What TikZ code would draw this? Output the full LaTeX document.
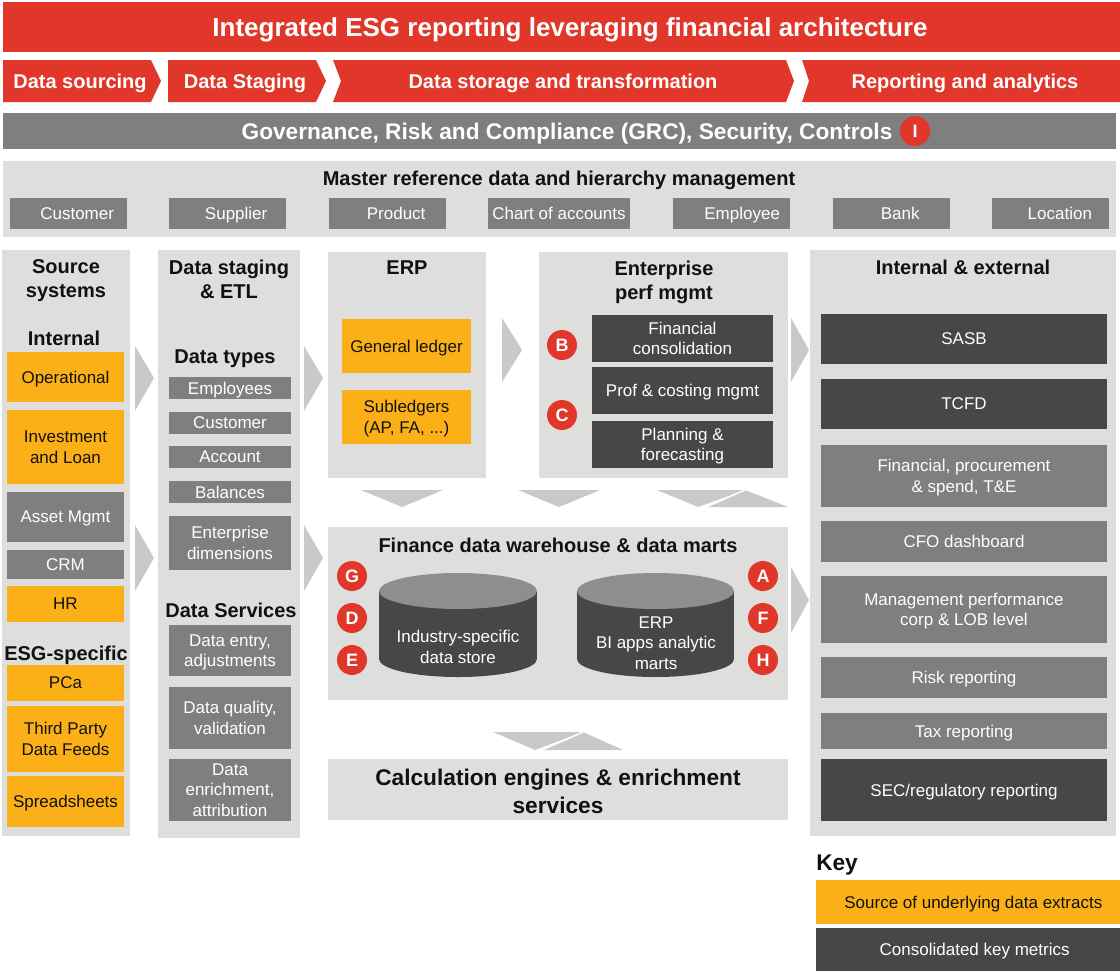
\documentclass[tikz,border=0pt]{standalone}
\usepackage{fontspec}
\setmainfont{Liberation Sans}
\definecolor{esgred}{HTML}{E1362A}
\definecolor{esgorange}{HTML}{FBB017}
\definecolor{esggray}{HTML}{7F7F7F}
\definecolor{esgdark}{HTML}{474747}
\definecolor{esgbg}{HTML}{DEDEDC}
\definecolor{esgarrow}{HTML}{C9C9C9}
\definecolor{esgcyl}{HTML}{8E8E8E}
\definecolor{esgtext}{HTML}{111111}
\newcommand\mybox[7]{\node[#2, minimum width={(#5-#3)*0.75pt}, minimum height={(#6-#4)*0.75pt}] (#1) at ({(#3+#5)/2},{(#4+#6)/2}) {#7};}
\begin{document}
\begin{tikzpicture}[x=0.75pt,y=-0.75pt,
  every node/.style={text depth=0pt},
  base/.style={inner sep=0pt, outer sep=0pt, align=center, font=\fontsize{12.75}{15.4}\selectfont},
  obox/.style={base, fill=esgorange, text=esgtext},
  gbox/.style={base, fill=esggray, text=white},
  dbox/.style={base, fill=esgdark, text=white},
  panel/.style={inner sep=0pt, outer sep=0pt, fill=esgbg},
  rbar/.style={inner sep=0pt, outer sep=0pt, fill=esgred},
  head/.style={inner sep=0pt, align=center, text=esgtext, font=\bfseries\fontsize{15}{18}\selectfont},
  badge/.style={circle, fill=esgred, text=white, inner sep=0pt, minimum size=22.5pt, font=\bfseries\fontsize{13.5}{13.5}\selectfont},
  tri/.style={fill=esgarrow},
  chev/.style={fill=esgred},
  chevtext/.style={inner sep=0pt, text=white, font=\bfseries\fontsize{15}{18}\selectfont},
  cyltext/.style={inner sep=0pt, align=center, text=white, font=\fontsize{12.75}{15.4}\selectfont},
]
\useasboundingbox (0,0) rectangle (1120,971);

% ---------- title ----------
\mybox{titlebar}{rbar}{3}{2}{1120}{52}{}
\node[inner sep=0pt, text=white, font=\bfseries\fontsize{19.5}{22}\selectfont] (title) at (570,27) {Integrated ESG reporting leveraging financial architecture};

% ---------- chevrons ----------
\fill[chev] (3,60) -- (151,60) -- (161,81) -- (151,102) -- (3,102) -- cycle;
\node[chevtext] (c1) at (80,81) {Data sourcing};
\fill[chev] (168,60) -- (316,60) -- (326,81) -- (316,102) -- (168,102) -- cycle;
\node[chevtext] (c2) at (245,81) {Data Staging};
\fill[chev] (333,60) -- (786,60) -- (794,81) -- (786,102) -- (333,102) -- (341,81) -- cycle;
\node[chevtext] (c3) at (563,81) {Data storage and transformation};
\fill[chev] (802,60) -- (1120,60) -- (1120,102) -- (802,102) -- (809,81) -- cycle;
\node[chevtext] (c4) at (965,81) {Reporting and analytics};

% ---------- GRC ----------
\mybox{grcbar}{panel, fill=esggray}{3}{113}{1116}{149}{}
\node[inner sep=0pt, text=white, font=\bfseries\fontsize{17}{20}\selectfont] (grc) at (567,131) {Governance, Risk and Compliance (GRC), Security, Controls};
\node[badge] (bI) at (915,131) {I};

% ---------- master reference ----------
\mybox{mref}{panel}{3}{161}{1116}{237}{}
\node[head] (mreft) at (559,178) {Master reference data and hierarchy management};
\mybox{m1}{gbox}{10}{198}{127}{229}{\hspace*{13pt}Customer}
\mybox{m2}{gbox}{169}{198}{286}{229}{\hspace*{13pt}Supplier}
\mybox{m3}{gbox}{329}{198}{446}{229}{\hspace*{13pt}Product}
\mybox{m4}{gbox}{488}{198}{630}{229}{Chart of accounts}
\mybox{m5}{gbox}{673}{198}{790}{229}{\hspace*{16pt}Employee}
\mybox{m6}{gbox}{833}{198}{950}{229}{\hspace*{13pt}Bank}
\mybox{m7}{gbox}{992}{198}{1109}{229}{\hspace*{14pt}Location}

% ---------- source systems ----------
\mybox{src}{panel}{2}{250}{130}{836}{}
\node[head] (srct) at (66,279) {Source\\systems};
\node[head] (srcint) at (64,338) {Internal};
\mybox{op}{obox}{7}{352}{124}{402}{Operational}
\mybox{inv}{obox}{7}{410}{124}{484}{Investment\\and Loan}
\mybox{am}{gbox}{7}{492}{124}{542}{Asset Mgmt}
\mybox{crm}{gbox}{7}{550}{124}{579}{CRM}
\mybox{hr}{obox}{7}{586}{124}{622}{HR}
\node[head] (esgs) at (66,653) {ESG-specific};
\mybox{pca}{obox}{7}{665}{124}{701}{PCa}
\mybox{tp}{obox}{7}{706}{124}{772}{Third Party\\Data Feeds}
\mybox{ss}{obox}{7}{776}{124}{827}{Spreadsheets}

% ---------- data staging ----------
\mybox{stg}{panel}{158}{250}{300}{838}{}
\node[head] (stgt) at (229,279) {Data staging\\\& ETL};
\node[head] (dtypes) at (225,357) {Data types};
\mybox{emp}{gbox}{169}{377}{291}{399}{Employees}
\mybox{cus}{gbox}{169}{412}{291}{434}{Customer}
\mybox{acc}{gbox}{169}{446}{291}{468}{Account}
\mybox{bal}{gbox}{169}{481}{291}{503}{Balances}
\mybox{ent}{gbox}{169}{516}{291}{570}{Enterprise\\dimensions}
\node[head] (dserv) at (231,610) {Data Services};
\mybox{den}{gbox}{169}{625}{291}{676}{Data entry,\\adjustments}
\mybox{dq}{gbox}{169}{687}{291}{749}{Data quality,\\validation}
\mybox{der}{gbox}{169}{759}{291}{821}{Data\\enrichment,\\attribution}

% ---------- ERP ----------
\mybox{erp}{panel}{328}{252}{486}{478}{}
\node[head] (erpt) at (407,268) {ERP};
\mybox{gl}{obox}{342}{319}{471}{373}{General ledger}
\mybox{sub}{obox}{342}{390}{471}{444}{Subledgers\\(AP, FA, ...)}

% ---------- EPM ----------
\mybox{epm}{panel}{539}{252}{788}{478}{}
\node[head] (epmt) at (664,280) {Enterprise\\perf mgmt};
\mybox{fc}{dbox}{592}{315}{773}{362}{Financial\\consolidation}
\mybox{pc}{dbox}{592}{367}{773}{414}{Prof \& costing mgmt}
\mybox{pf}{dbox}{592}{421}{773}{468}{Planning \&\\forecasting}
\node[badge] (bB) at (562,345) {B};
\node[badge] (bC) at (562,415) {C};

% ---------- FDW ----------
\mybox{fdw}{panel}{328}{527}{788}{700}{}
\node[head] (fdwt) at (558,545) {Finance data warehouse \& data marts};
\node[badge] (bG) at (352,576) {G};
\node[badge] (bD) at (352,618) {D};
\node[badge] (bE) at (352,660) {E};
\node[badge] (bA) at (763,576) {A};
\node[badge] (bF) at (763,618) {F};
\node[badge] (bH) at (763,660) {H};
% cylinder 1
\fill[esgdark] (379,591) rectangle (537,659);
\fill[esgdark] (458,659) ellipse [x radius=59.25pt, y radius=13.5pt];
\fill[esgcyl] (458,591) ellipse [x radius=59.25pt, y radius=13.5pt];
\node[cyltext] (cyl1) at (458,647) {Industry-specific\\data store};
% cylinder 2
\fill[esgdark] (577,591) rectangle (734,659);
\fill[esgdark] (655.5,659) ellipse [x radius=58.9pt, y radius=13.5pt];
\fill[esgcyl] (655.5,591) ellipse [x radius=58.9pt, y radius=13.5pt];
\node[cyltext] (cyl2) at (656,643) {ERP\\BI apps analytic\\marts};

% ---------- calc ----------
\mybox{calc}{panel}{328}{759}{788}{820}{}
\node[inner sep=0pt, align=center, text=esgtext, font=\bfseries\fontsize{17}{21}\selectfont] (calct) at (558,791) {Calculation engines \& enrichment\\services};

% ---------- reporting ----------
\mybox{rep}{panel}{810}{250}{1116}{836}{}
\node[head] (rept) at (963,267) {Internal \& external};
\mybox{sasb}{dbox}{821}{314}{1107}{364}{SASB}
\mybox{tcfd}{dbox}{821}{379}{1107}{429}{TCFD}
\mybox{fin}{gbox}{821}{445}{1107}{507}{Financial, procurement\\\& spend, T\&E}
\mybox{cfo}{gbox}{821}{521}{1107}{562}{CFO dashboard}
\mybox{mgmt}{gbox}{821}{576}{1107}{643}{Management performance\\corp \& LOB level}
\mybox{risk}{gbox}{821}{657}{1107}{698}{Risk reporting}
\mybox{tax}{gbox}{821}{713}{1107}{749}{Tax reporting}
\mybox{sec}{dbox}{821}{759}{1107}{821}{SEC/regulatory reporting}

% ---------- key ----------
\node[inner sep=0pt, anchor=west, text=esgtext, font=\bfseries\fontsize{17}{20}\selectfont] (key) at (816,863) {Key};
\mybox{k1}{obox}{816}{880}{1120}{924}{\hspace*{8pt}Source of underlying data extracts}
\mybox{k2}{dbox}{816}{928}{1120}{971}{\hspace*{10pt}Consolidated key metrics}

% ---------- block arrows ----------
\fill[tri] (135,346) -- (154,378) -- (135,411) -- cycle;
\fill[tri] (135,525) -- (154,558) -- (135,591) -- cycle;
\fill[tri] (304,346) -- (323,378) -- (304,411) -- cycle;
\fill[tri] (304,525) -- (323,558) -- (304,591) -- cycle;
\fill[tri] (502,318) -- (522,350) -- (502,382) -- cycle;
\fill[tri] (791,318) -- (809,350) -- (791,382) -- cycle;
\fill[tri] (791,567) -- (809,600) -- (791,633) -- cycle;
% down arrows
\fill[tri] (361,490) -- (443,490) -- (402,507) -- cycle;
\fill[tri] (518,490) -- (600,490) -- (559,507) -- cycle;
\fill[tri] (657,490) -- (745,490) -- (698,507) -- cycle;
\fill[tri] (706,507) -- (788,507) -- (745,490) -- cycle;
\draw[white, line width=1.1pt] (706,507) -- (745,490);
\fill[tri] (493,732) -- (583,732) -- (535,750) -- cycle;
\fill[tri] (542,750) -- (623,750) -- (583,732) -- cycle;
\draw[white, line width=1.1pt] (542,750) -- (583,732);
\end{tikzpicture}
\end{document}
